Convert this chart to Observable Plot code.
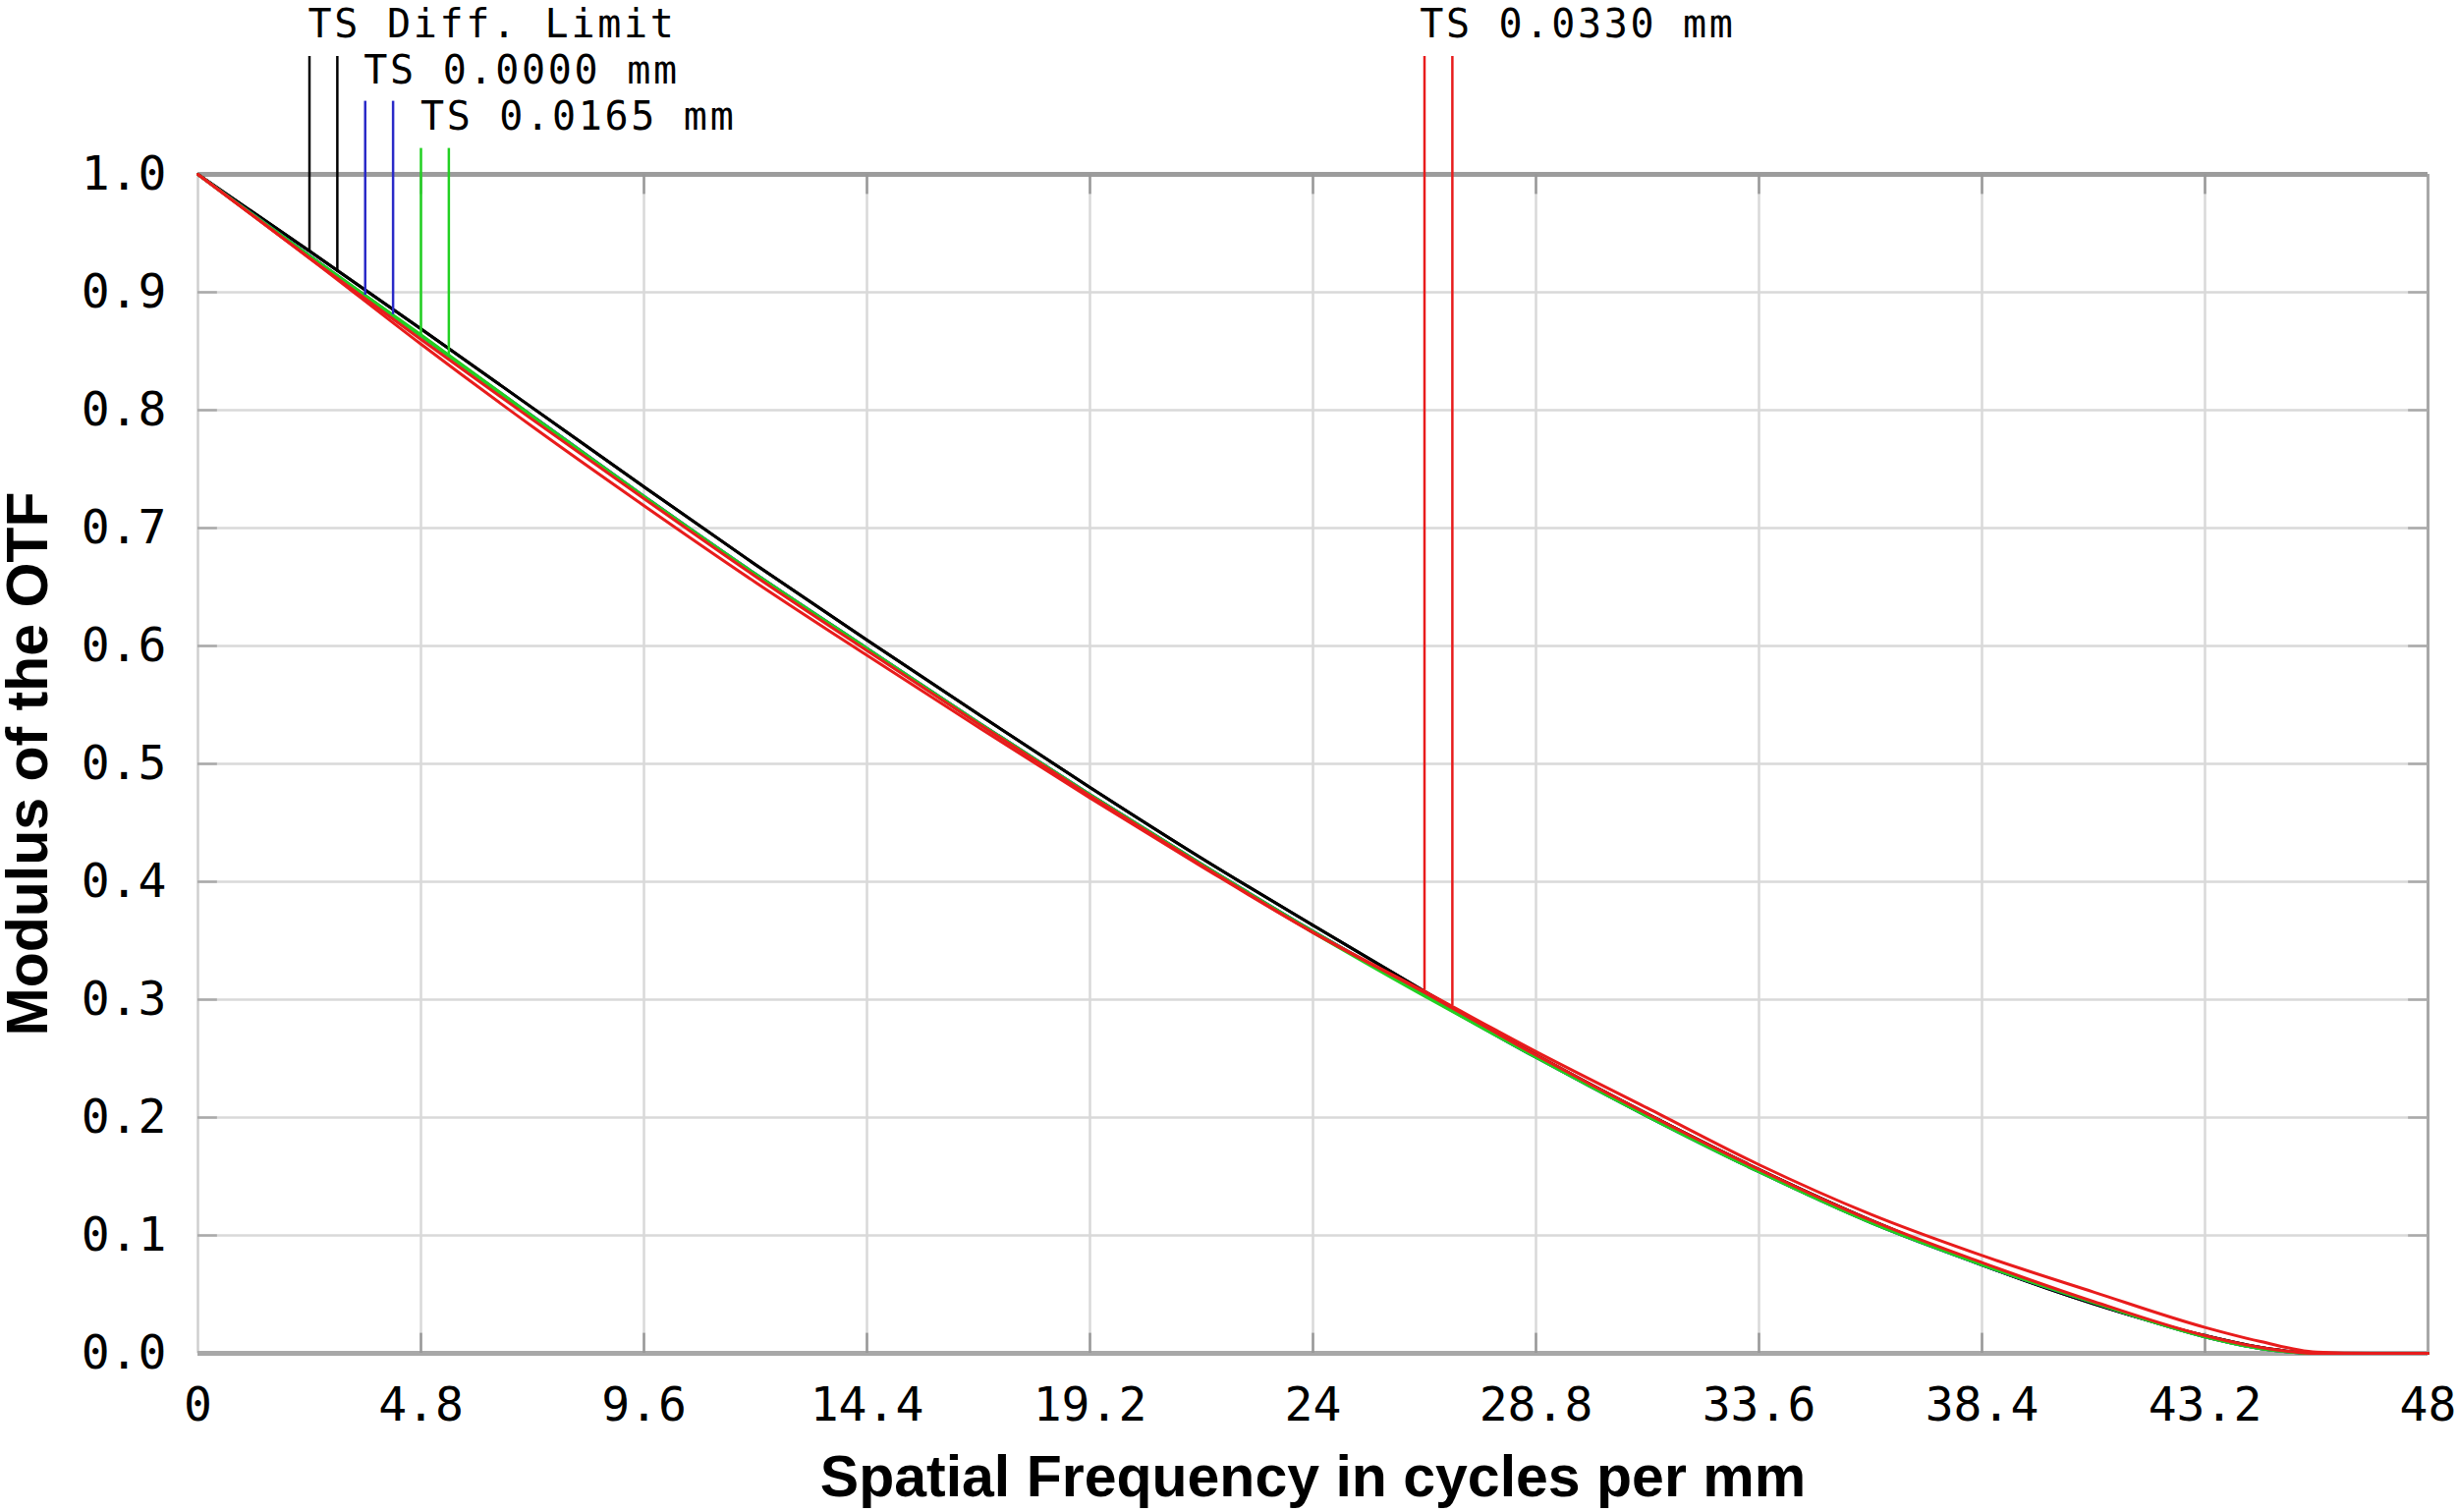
<!DOCTYPE html>
<html>
<head>
<meta charset="utf-8">
<script src="https://cdn.jsdelivr.net/npm/d3@7"></script>
<script src="https://cdn.jsdelivr.net/npm/@observablehq/plot@0.6"></script>
<style>
  html, body { margin: 0; padding: 0; background: #fff; }
  #chart svg { display: block; overflow: visible; }
</style>
</head>
<body>
<div id="chart"></div>
<script>
// ---- data ----
const freq = [0, 2.4, 4.8, 7.2, 9.6, 12, 14.4, 16.8, 19.2, 21.6, 24, 26.4, 28.8, 31.2, 33.6, 36, 38.4, 40.8, 43.2, 44.4, 45.6, 46.8, 48];

const diffT  = [1.000, 0.935, 0.869, 0.802, 0.735, 0.669, 0.605, 0.542, 0.480, 0.420, 0.363, 0.307, 0.253, 0.203, 0.156, 0.113, 0.075, 0.042, 0.015, 0.005, 0.000, 0.000, 0.000];
const diffS  = [1.000, 0.935, 0.869, 0.802, 0.735, 0.669, 0.605, 0.542, 0.480, 0.420, 0.363, 0.307, 0.253, 0.203, 0.156, 0.113, 0.075, 0.042, 0.015, 0.005, 0.000, 0.000, 0.000];
const f0T    = [1.000, 0.931, 0.863, 0.795, 0.727, 0.661, 0.598, 0.535, 0.474, 0.415, 0.358, 0.304, 0.251, 0.201, 0.154, 0.111, 0.075, 0.043, 0.014, 0.004, 0.000, 0.000, 0.000];
const f0S    = [1.000, 0.931, 0.863, 0.795, 0.727, 0.661, 0.598, 0.535, 0.474, 0.415, 0.358, 0.304, 0.251, 0.201, 0.154, 0.111, 0.075, 0.043, 0.014, 0.004, 0.000, 0.000, 0.000];
const f1T    = [1.000, 0.931, 0.864, 0.795, 0.727, 0.661, 0.598, 0.535, 0.474, 0.415, 0.358, 0.304, 0.251, 0.201, 0.154, 0.111, 0.075, 0.043, 0.014, 0.004, 0.000, 0.000, 0.000];
const f1S    = [1.000, 0.930, 0.863, 0.794, 0.726, 0.660, 0.597, 0.534, 0.473, 0.414, 0.357, 0.303, 0.251, 0.201, 0.154, 0.111, 0.076, 0.043, 0.014, 0.004, 0.000, 0.000, 0.000];
const f2T    = [1.000, 0.929, 0.860, 0.792, 0.725, 0.659, 0.596, 0.534, 0.473, 0.414, 0.357, 0.306, 0.253, 0.203, 0.156, 0.113, 0.077, 0.044, 0.015, 0.005, 0.000, 0.000, 0.000];
const f2S    = [1.000, 0.929, 0.856, 0.786, 0.719, 0.654, 0.592, 0.531, 0.471, 0.413, 0.357, 0.307, 0.256, 0.208, 0.160, 0.118, 0.083, 0.052, 0.022, 0.010, 0.001, 0.000, 0.000];

const fields      = ["Diff. Limit", "0.0000 mm", "0.0165 mm", "0.0330 mm"];
const fieldColors = ["#000000", "#2a2ac8", "#22d022", "#e81c1c"];

// legend label texts and their anchor (frequency, modulus)
const labelText = ["TS Diff. Limit", "TS 0.0000 mm", "TS 0.0165 mm", "TS 0.0330 mm"];
const labelFreq = [2.37, 3.57, 4.79, 26.3];
const labelMod  = [1.1271, 1.0879, 1.0488, 1.1271];

// pointer lines from labels down to the curves
const markerField = ["Diff. Limit", "Diff. Limit", "0.0000 mm", "0.0000 mm", "0.0165 mm", "0.0165 mm", "0.0330 mm", "0.0330 mm"];
const markerFreq  = [2.4, 3.0, 3.6, 4.2, 4.8, 5.4, 26.4, 27.0];
const markerTop   = [1.100, 1.100, 1.062, 1.062, 1.022, 1.022, 1.100, 1.100];
const markerEnd   = [0.935, 0.917, 0.8975, 0.881, 0.864, 0.846, 0.306, 0.295];

const xTicks = [0, 4.8, 9.6, 14.4, 19.2, 24, 28.8, 33.6, 38.4, 43.2, 48];
const yTicks = [0, 0.1, 0.2, 0.3, 0.4, 0.5, 0.6, 0.7, 0.8, 0.9, 1.0];

// ---- tables built from the arrays ----
const seriesList = [
  {field: "Diff. Limit", name: "Diff T", values: diffT},
  {field: "Diff. Limit", name: "Diff S", values: diffS},
  {field: "0.0000 mm", name: "0.0000 T", values: f0T},
  {field: "0.0000 mm", name: "0.0000 S", values: f0S},
  {field: "0.0165 mm", name: "0.0165 T", values: f1T},
  {field: "0.0165 mm", name: "0.0165 S", values: f1S},
  {field: "0.0330 mm", name: "0.0330 T", values: f2T},
  {field: "0.0330 mm", name: "0.0330 S", values: f2S}
];
const rows = [];
seriesList.forEach(s => s.values.forEach((v, i) => rows.push({freq: freq[i], mod: v, series: s.name, field: s.field})));

const markers = markerFreq.map((f, i) => ({freq: f, top: markerTop[i], end: markerEnd[i], field: markerField[i]}));
const labels = labelText.map((t, i) => ({text: t, freq: labelFreq[i], mod: labelMod[i]}));

const innerX = xTicks.slice(1, -1);
const innerY = yTicks.slice(1, -1);

const mono = "DejaVu Sans Mono, monospace";
const sans = "Liberation Sans, Arial, Helvetica, sans-serif";

const chart = Plot.plot({
  width: 2501,
  height: 1539,
  marginTop: 177,
  marginRight: 30,
  marginBottom: 162,
  marginLeft: 201,
  style: {background: "#fff", overflow: "visible"},
  x: {domain: [0, 48]},
  y: {domain: [0, 1]},
  color: {domain: fields, range: fieldColors},
  marks: [
    // grid
    Plot.ruleX(innerX, {stroke: "#d9d9d9", strokeWidth: 2.5}),
    Plot.ruleY(innerY, {stroke: "#d9d9d9", strokeWidth: 2.5}),
    // frame
    Plot.ruleX([0], {stroke: "#cfcfcf", strokeWidth: 2.5}),
    Plot.ruleX([48], {stroke: "#a8a8a8", strokeWidth: 3}),
    Plot.ruleY([1], {stroke: "#9c9c9c", strokeWidth: 5}),
    Plot.ruleY([0], {stroke: "#a8a8a8", strokeWidth: 5}),
    // small inner ticks
    Plot.ruleX(innerX, {y1: 1, y2: 0.983, stroke: "#999", strokeWidth: 2.5}),
    Plot.ruleX(innerX, {y1: 0, y2: 0.017, stroke: "#999", strokeWidth: 2.5}),
    Plot.ruleY(innerY, {x1: 0, x2: 0.42, stroke: "#aaa", strokeWidth: 2.5}),
    Plot.ruleY(innerY, {x1: 48, x2: 47.58, stroke: "#aaa", strokeWidth: 2.5}),
    // axes
    Plot.axisY(yTicks, {tickSize: 0, tickPadding: 32, tickFormat: d3.format(".1f"), fontSize: 48, fontFamily: mono, label: null}),
    Plot.axisX(xTicks, {tickSize: 0, tickPadding: 34, tickFormat: d => String(d), fontSize: 48, fontFamily: mono, label: null}),
    // curves
    Plot.line(rows, {x: "freq", y: "mod", z: "series", stroke: "field", strokeWidth: 3, curve: "monotone-x", strokeLinejoin: "round"}),
    // pointer lines
    Plot.ruleX(markers, {x: "freq", y1: "top", y2: "end", stroke: "field", strokeWidth: 2.5}),
    // labels
    Plot.text(labels, {x: "freq", y: "mod", text: "text", textAnchor: "start", lineAnchor: "middle", fill: "#000", fontSize: 40, fontFamily: mono}),
    // axis titles
    Plot.text(["Spatial Frequency in cycles per mm"], {frameAnchor: "bottom", textAnchor: "middle", lineAnchor: "middle", dy: 127, fontSize: 59, fontWeight: "bold", fontFamily: sans, fill: "#000"}),
    Plot.text(["Modulus of the OTF"], {frameAnchor: "left", textAnchor: "middle", lineAnchor: "middle", dx: -172, rotate: -90, fontSize: 59, fontWeight: "bold", fontFamily: sans, fill: "#000"})
  ]
});
d3.select(chart).selectAll("text")
  .filter(function () { return labelText.includes(this.textContent); })
  .style("letter-spacing", "2.7px");
document.getElementById("chart").appendChild(chart);
</script>
</body>
</html>
